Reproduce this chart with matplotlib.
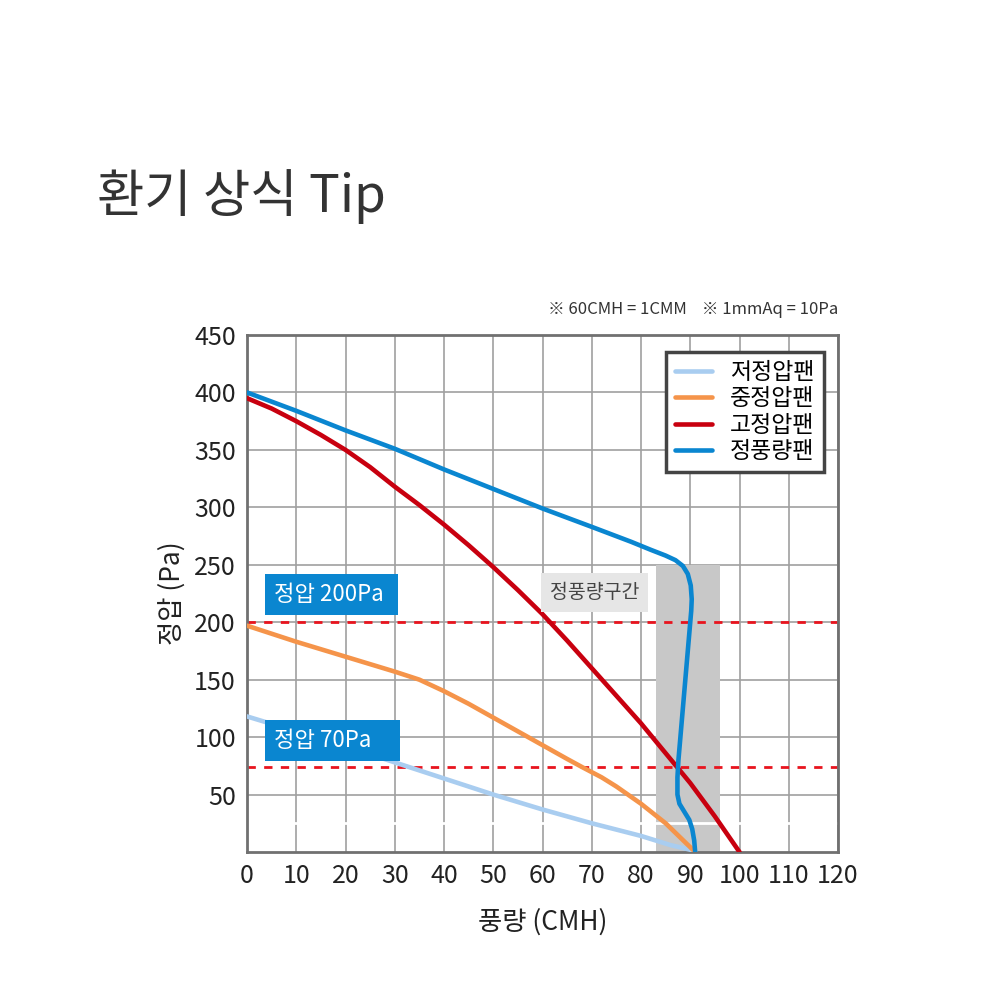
import numpy as np
import matplotlib
matplotlib.use('Agg')
from matplotlib import pyplot as plt
import matplotlib.patches as patches

plt.rcParams['font.family'] = ['Noto Sans CJK KR', 'DejaVu Sans']

# ---DATA--- #
low_x = [0, 10, 20, 30, 40, 50, 60, 70, 80, 86, 90, 91]
low_y = [118, 105, 92, 78, 64, 50, 37, 25, 14, 6, 2, 0]
mid_x = [0, 10, 20, 30, 35, 40, 45, 50, 55, 60, 65, 68, 72, 75, 80, 85, 91]
mid_y = [197, 183, 170, 157, 150, 140, 129, 117, 105, 93, 81, 74, 65, 57, 42, 25, 0]
high_x = [0, 5, 10, 15, 20, 25, 30, 35, 40, 45, 50, 55, 60, 65, 70, 75, 80, 85, 90, 95, 100]
high_y = [395, 386, 375, 363, 350, 335, 318, 302, 285, 267, 248, 228, 207, 184, 160, 136, 112, 86, 60, 31, 0]
cv_x = [0, 10, 20, 30, 40, 50, 60, 70, 78, 82, 85, 87, 88.5, 89.5, 90.1, 90.3, 90.2, 90,
        89.5, 89, 88.5, 88, 87.6, 87.4, 87.4, 87.8, 88.8, 89.8, 90.4, 90.8, 91]
cv_y = [400, 384, 367, 351, 333, 316, 299, 283, 270, 263, 258, 254, 249, 242, 232, 220, 210, 200,
        175, 150, 125, 100, 80, 65, 50, 42, 35, 28, 20, 10, 0]
names = ['저정압팬', '중정압팬', '고정압팬', '정풍량팬']
colors = ['#a9cdf0', '#f5944a', '#c8000f', '#0a86d0']
ref_lines = [200, 74]
band = (83, 96, 250)

fig = plt.figure(figsize=(10, 10), dpi=100)
ax = fig.add_axes([0.247, 0.148, 0.591, 0.517])

ax.add_patch(patches.Rectangle((band[0], 0), band[1] - band[0], band[2],
                               color='#c8c8c8', zorder=1, lw=0))
ax.axhline(25, color='white', lw=2, zorder=1.5)
for yv in ref_lines:
    ax.axhline(yv, color='#e8141e', lw=2, ls=(0, (3, 3)), zorder=2)

series = [(low_x, low_y), (mid_x, mid_y), (high_x, high_y), (cv_x, cv_y)]
for (xs, ys), n, c in zip(series, names, colors):
    ax.plot(xs, ys, color=c, lw=3.3, label=n, zorder=3,
            solid_capstyle='round', solid_joinstyle='round')

ax.set_xlim(0, 120)
ax.set_ylim(0, 450)
ax.set_xticks(np.arange(0, 121, 10))
ax.set_yticks(np.arange(50, 451, 50))
ax.grid(True, color='#a0a0a0', lw=1.2, zorder=0)
ax.set_axisbelow(True)
ax.tick_params(length=0, labelsize=18, pad=8, colors='#222222')
for s in ax.spines.values():
    s.set_color('#707070')
    s.set_linewidth(2)
ax.set_xlabel('풍량 (CMH)', fontsize=19, labelpad=14, color='#222222')
ax.set_ylabel('정압 (Pa)', fontsize=19, labelpad=6, color='#222222')

leg = ax.legend(loc='upper right', fontsize=16.5, frameon=True, fancybox=False,
                handlelength=1.6, borderpad=0.4, labelspacing=0.15,
                bbox_to_anchor=(0.995, 0.99))
leg.get_frame().set_edgecolor('#444444')
leg.get_frame().set_linewidth(2.5)
leg.get_frame().set_alpha(1)
leg.set_zorder(5)

box = dict(boxstyle='square,pad=0.4', fc='#0a86d0', ec='none')
ax.text(5.5, 224, '정압 200Pa ', color='white', fontsize=16, va='center', bbox=box, zorder=4)
ax.text(5.5, 97, '정압 70Pa    ', color='white', fontsize=16, va='center', bbox=box, zorder=4)
ax.text(70.5, 226, '정풍량구간', color='#444444', fontsize=14, ha='center', va='center',
        bbox=dict(boxstyle='square,pad=0.45', fc='#e6e6e6', ec='none'), zorder=4)

fig.text(0.097, 0.803, '환기 상식 Tip', fontsize=37, color='#333333', va='center')
fig.text(0.838, 0.69, '※ 60CMH = 1CMM    ※ 1mmAq = 10Pa', fontsize=12,
         color='#333333', ha='right', va='center')

fig.savefig('out.png', dpi=100, facecolor='white')
